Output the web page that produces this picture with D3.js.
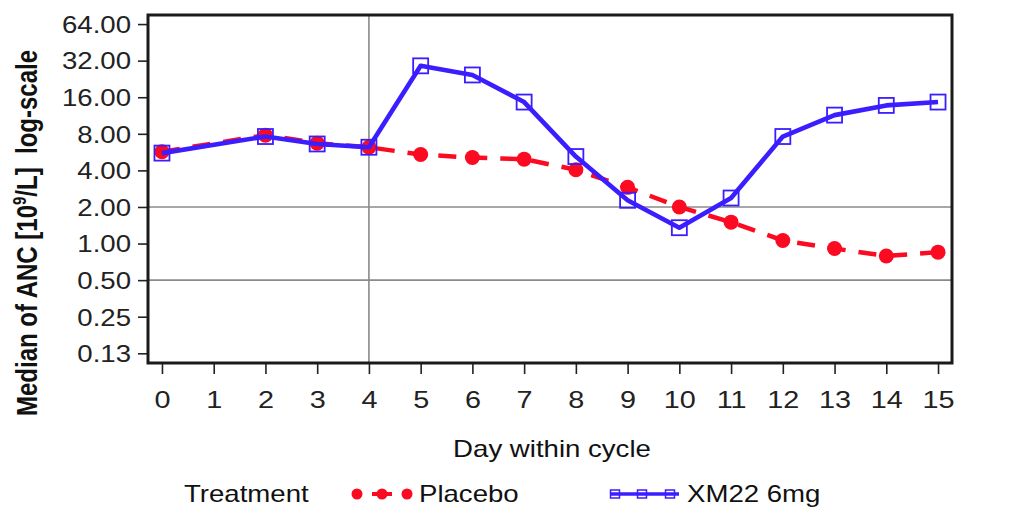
<!DOCTYPE html>
<html>
<head>
<meta charset="utf-8">
<script src="https://cdn.jsdelivr.net/npm/d3@7"></script>
<style>
  html, body { margin: 0; padding: 0; background: #fff; }
  svg { display: block; }
  text { font-family: "Liberation Sans", Arial, sans-serif; fill: #111; }
</style>
</head>
<body>
<svg id="chart" width="1022" height="510"></svg>
<script>
// Median absolute neutrophil count by day within cycle
const days = [0, 2, 3, 4, 5, 6, 7, 8, 9, 10, 11, 12, 13, 14, 15];
const placebo = [5.7, 7.8, 6.7, 6.2, 5.4, 5.1, 4.95, 4.05, 2.9, 2.0, 1.5, 1.06, 0.91, 0.79, 0.85];
const xm22 = [5.55, 7.6, 6.6, 6.2, 29.0, 24.4, 14.6, 5.2, 2.27, 1.35, 2.37, 7.6, 11.4, 13.7, 14.6];

const xTicks = [0, 1, 2, 3, 4, 5, 6, 7, 8, 9, 10, 11, 12, 13, 14, 15];
const yTicks = [64, 32, 16, 8, 4, 2, 1, 0.5, 0.25, 0.125];
const yTickLabels = ["64.00", "32.00", "16.00", "8.00", "4.00", "2.00", "1.00", "0.50", "0.25", "0.13"];
const refY = [2, 0.5];
const refX = [4];

const seriesNames = ["Placebo", "XM22 6mg"];
const RED = "#fb0a22";
const BLUE = "#3a1eff";
const SX = 1.2; // horizontal glyph stretch used by all labels

const svg = d3.select("#chart");
const plot = { left: 148, right: 952, top: 15, bottom: 363 };

const x = d3.scaleLinear().domain([-0.27, 15.27]).range([plot.left, plot.right]);
const y = d3.scaleLog().base(2).domain([0.104, 76]).range([plot.bottom, plot.top]);

// reference lines
const grid = svg.append("g").attr("stroke", "#8a8a8a").attr("stroke-width", 1.6);
grid.selectAll("line.h").data(refY).join("line")
  .attr("x1", plot.left).attr("x2", plot.right)
  .attr("y1", d => y(d)).attr("y2", d => y(d));
grid.selectAll("line.v").data(refX).join("line")
  .attr("x1", d => x(d)).attr("x2", d => x(d))
  .attr("y1", plot.top).attr("y2", plot.bottom);

// axes
const yAxis = d3.axisLeft(y).tickValues(yTicks).tickSize(10).tickFormat((d, i) => yTickLabels[i]);
const gy = svg.append("g").attr("transform", `translate(${plot.left},0)`).call(yAxis);
gy.select(".domain").remove();
gy.selectAll(".tick line").attr("stroke", "#222").attr("stroke-width", 1.6);
gy.selectAll(".tick text")
  .attr("x", 0).attr("dy", "0.36em")
  .attr("transform", `translate(-17,0) scale(${SX},1)`)
  .style("font-size", "23px").style("fill", "#222");

const xAxis = d3.axisBottom(x).tickValues(xTicks).tickSize(11).tickFormat(d3.format("d"));
const gx = svg.append("g").attr("transform", `translate(0,${plot.bottom})`).call(xAxis);
gx.select(".domain").remove();
gx.selectAll(".tick line").attr("stroke", "#222").attr("stroke-width", 1.6);
gx.selectAll(".tick text")
  .attr("y", 0).attr("dy", 0)
  .attr("transform", `translate(0,45) scale(${SX},1)`)
  .style("font-size", "24px").style("fill", "#222");

// frame
svg.append("rect")
  .attr("x", plot.left).attr("y", plot.top)
  .attr("width", plot.right - plot.left).attr("height", plot.bottom - plot.top)
  .attr("fill", "none").attr("stroke", "#1a1a1a").attr("stroke-width", 3);

// series
const pts = (vals) => days.map((d, i) => [d, vals[i]]);
const line = d3.line().x(d => x(d[0])).y(d => y(d[1]));

const gData = svg.append("g");
gData.append("path").datum(pts(placebo))
  .attr("d", line).attr("fill", "none")
  .attr("stroke", RED).attr("stroke-width", 4.5)
  .attr("stroke-dasharray", "18 13");
gData.selectAll("circle.pl").data(pts(placebo)).join("circle")
  .attr("cx", d => x(d[0])).attr("cy", d => y(d[1])).attr("r", 7.5)
  .attr("fill", RED);

gData.append("path").datum(pts(xm22))
  .attr("d", line).attr("fill", "none")
  .attr("stroke", BLUE).attr("stroke-width", 4.6).attr("stroke-linejoin", "round");
const sq = 15;
gData.selectAll("rect.xm").data(pts(xm22)).join("rect")
  .attr("x", d => x(d[0]) - sq / 2).attr("y", d => y(d[1]) - sq / 2)
  .attr("width", sq).attr("height", sq)
  .attr("fill", "none").attr("stroke", BLUE).attr("stroke-width", 1.8);

// axis titles
function stretchedText(g, tx, ty, txt, size, opts = {}) {
  return g.append("text")
    .attr("transform", `translate(${tx},${ty}) scale(${SX},1)`)
    .attr("text-anchor", opts.anchor || "start")
    .style("font-size", size + "px")
    .text(txt);
}

stretchedText(svg, (plot.left + plot.right) / 2 + 2, 457, "Day within cycle", 23, { anchor: "middle" });

const yTitle = svg.append("text")
  .attr("transform", `translate(37,233) scale(${SX},1) rotate(-90)`)
  .attr("text-anchor", "middle")
  .style("font-size", "24px").style("font-weight", "bold").style("white-space", "pre");
yTitle.append("tspan").text("Median of ANC [10");
yTitle.append("tspan").attr("dy", -9).style("font-size", "15px").text("9");
yTitle.append("tspan").attr("dy", 9).text("/L]  log-scale");

// legend
const leg = svg.append("g");
stretchedText(leg, 184, 502, "Treatment", 23);

const legY = 494;
leg.append("line").attr("x1", 352).attr("x2", 412).attr("y1", legY).attr("y2", legY)
  .attr("stroke", RED).attr("stroke-width", 4).attr("stroke-dasharray", "5 10").attr("stroke-dashoffset", -5);
leg.selectAll("circle").data([357, 382, 407]).join("circle")
  .attr("cx", d => d).attr("cy", legY).attr("r", 5.5).attr("fill", RED);
stretchedText(leg, 419, 502, seriesNames[0], 23);

leg.append("line").attr("x1", 611).attr("x2", 679).attr("y1", legY).attr("y2", legY)
  .attr("stroke", BLUE).attr("stroke-width", 3.5);
leg.selectAll("rect").data([615, 642, 670]).join("rect")
  .attr("x", d => d - 4.5).attr("y", legY - 4).attr("width", 9).attr("height", 8)
  .attr("fill", "none").attr("stroke", BLUE).attr("stroke-width", 1.5);
stretchedText(leg, 687, 502, seriesNames[1], 23);
</script>
</body>
</html>
